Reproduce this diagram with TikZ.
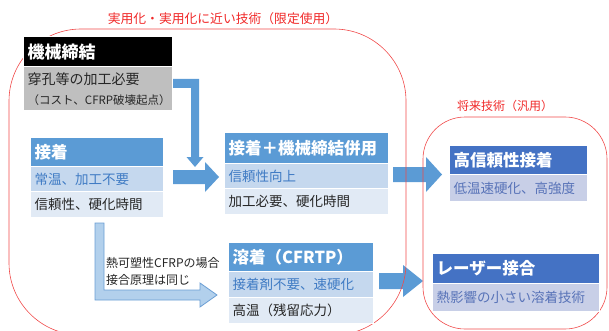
\documentclass[tikz,border=0pt]{standalone}
\usepackage{fontspec}
\setmainfont{Noto Sans CJK JP}
\definecolor{hdrA}{HTML}{5B9BD5}
\definecolor{rowA}{HTML}{C5D8EE}
\definecolor{rowB}{HTML}{E1EAF5}
\definecolor{hdrB}{HTML}{4472C4}
\definecolor{rowC}{HTML}{C8CFE7}
\definecolor{txtA}{HTML}{3F7BC4}
\definecolor{txtB}{HTML}{5873B8}
\definecolor{grayc}{HTML}{BFBFBF}
\definecolor{redl}{HTML}{F04A4A}
\definecolor{redt}{HTML}{F02828}
\definecolor{arrc}{HTML}{5B9BD5}
\definecolor{lfill}{HTML}{B2D0EC}
\definecolor{ledge}{HTML}{6B9ED4}
\tikzset{
  cell/.style={anchor=north west, inner xsep=4pt, inner ysep=0pt, align=left, draw=white, line width=1.4pt},
  hdr/.style={cell, font=\bfseries\fontsize{16.5}{18}\selectfont, text=white},
  body/.style={cell, font=\fontsize{13.5}{16}\selectfont, text=black!85},
  blockarrow/.style={fill=arrc},
  lightarrow/.style={fill=lfill, draw=ledge, line width=0.8pt},
  zone/.style={draw=redl, line width=0.6pt},
  zonelabel/.style={text=redt, inner sep=0pt},
}
\begin{document}
\begin{tikzpicture}[x=1pt,y=-1pt]
\useasboundingbox (0,0) rectangle (609,331);
\clip (0,0) rectangle (609,331);

% block arrows
\fill[blockarrow] (172,79) -- (199,79) -- (199,157) -- (203.5,157) -- (195,167) -- (186.5,157) -- (191,157) -- (191,88) -- (172,88) -- cycle;
\fill[blockarrow] (173,170) -- (205,170) -- (205,162) -- (219,177) -- (205,192) -- (205,184) -- (173,184) -- cycle;
\fill[blockarrow] (393,167) -- (426,167) -- (426,157) -- (442,174.5) -- (426,192) -- (426,182) -- (393,182) -- cycle;
\fill[blockarrow] (379,273) -- (403,273) -- (403,265) -- (423,281) -- (403,297) -- (403,289) -- (379,289) -- cycle;
\draw[lightarrow] (95,223) -- (104,223) -- (104,290) -- (200,290) -- (200,283) -- (217,295) -- (200,307) -- (200,300) -- (95,300) -- cycle;

% zones
\draw[zone, rounded corners=72pt] (9,29) rectangle (406,335);
\draw[zone, rounded corners=42pt] (423,117) rectangle (607,329);
\node[zonelabel, font=\fontsize{12.8}{14}\selectfont] (ztl) at (223,19) {実用化・実用化に近い技術（限定使用）};
\node[zonelabel, font=\fontsize{12}{14}\selectfont] (ztr) at (505,106) {将来技術（汎用）};

% 機械締結
\node[hdr, fill=black, text width=141pt, minimum height=30pt, font=\bfseries\fontsize{17}{18}\selectfont] (kh) at (23,36) {機械締結};
\node[body, fill=grayc, text width=141pt, minimum height=44pt, font=\fontsize{14}{20}\selectfont] (kb) at (23,66) {穿孔等の加工必要\\{\fontsize{11.5}{14}\selectfont （コスト、CFRP破壊起点）}};

% 接着
\node[hdr, fill=hdrA, text width=125pt, minimum height=29pt] (sh) at (30,137) {接着};
\node[body, fill=rowA, text=txtA, text width=125pt, minimum height=25pt] (s2) at (30,166) {常温、加工不要};
\node[body, fill=rowB, text width=125pt, minimum height=26pt] (s3) at (30,191) {信頼性、硬化時間};

% 接着＋機械締結併用
\node[hdr, fill=hdrA, text width=156pt, minimum height=31pt] (ph) at (224,132) {接着＋機械締結併用};
\node[body, fill=rowA, text=txtA, text width=156pt, minimum height=25pt] (p2) at (224,163) {信頼性向上};
\node[body, fill=rowB, text width=156pt, minimum height=26pt] (p3) at (224,188) {加工必要、硬化時間};

% 溶着
\node[hdr, fill=hdrA, text width=137pt, minimum height=29pt] (wh) at (228,242) {溶着（CFRTP）};
\node[body, fill=rowA, text=txtA, text width=137pt, minimum height=26pt] (w2) at (228,271) {接着剤不要、速硬化};
\node[body, fill=rowB, text width=137pt, minimum height=26pt] (w3) at (228,297) {高温（残留応力）};

% 高信頼性接着
\node[hdr, fill=hdrB, text width=130pt, minimum height=29pt] (hh) at (449,145) {高信頼性接着};
\node[body, fill=rowC, text=txtB, text width=130pt, minimum height=27pt] (h2) at (449,174) {低温速硬化、高強度};

% レーザー接合
\node[hdr, fill=hdrB, text width=159pt, minimum height=30pt] (lh) at (432,253) {レーザー接合};
\node[body, fill=rowC, text=txtB, text width=159pt, minimum height=28pt] (l2) at (432,283) {熱影響の小さい溶着技術};

% note
\node[anchor=west, align=left, inner sep=0pt, text=black!85, font=\fontsize{12}{17}\selectfont] (note) at (106,271.5) {熱可塑性CFRPの場合\\接合原理は同じ};
\end{tikzpicture}
\end{document}
